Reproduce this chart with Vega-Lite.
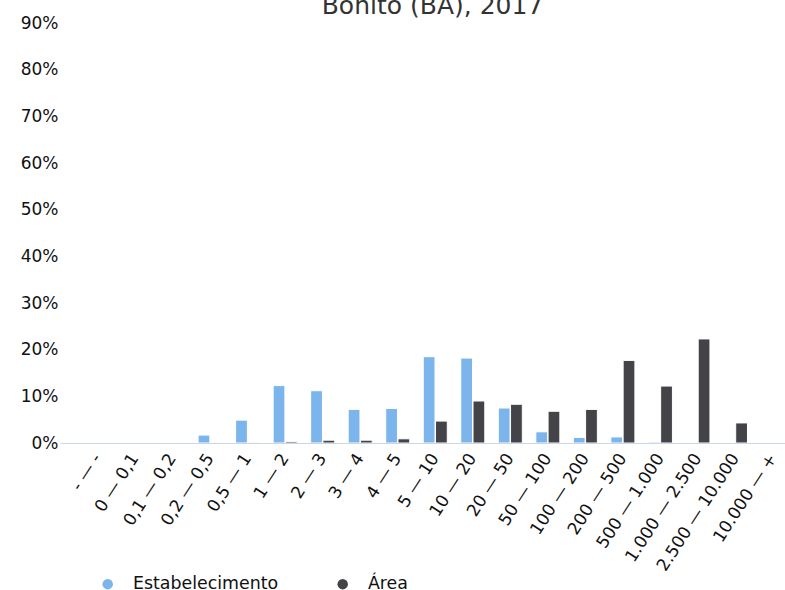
{
  "$schema": "https://vega.github.io/schema/vega-lite/v6.json",
  "autosize": {"type": "none"},
  "padding": {"left": 60, "top": 23, "right": 0, "bottom": 147},
  "width": 725,
  "height": 420,
  "title": {
    "text": "Bonito (BA), 2017",
    "font": "DejaVu Sans",
    "fontSize": 25,
    "fontWeight": "normal",
    "color": "#333333",
    "anchor": "middle",
    "offset": -5,
    "dx": 10
  },
  "data": {
    "values": [
      {"faixa": "- — -", "tipo": "Estabelecimento", "valor": 0},
      {"faixa": "- — -", "tipo": "Área", "valor": 0},
      {"faixa": "0 — 0,1", "tipo": "Estabelecimento", "valor": 0},
      {"faixa": "0 — 0,1", "tipo": "Área", "valor": 0},
      {"faixa": "0,1 — 0,2", "tipo": "Estabelecimento", "valor": 0},
      {"faixa": "0,1 — 0,2", "tipo": "Área", "valor": 0},
      {"faixa": "0,2 — 0,5", "tipo": "Estabelecimento", "valor": 0.017},
      {"faixa": "0,2 — 0,5", "tipo": "Área", "valor": 0.0002},
      {"faixa": "0,5 — 1", "tipo": "Estabelecimento", "valor": 0.049},
      {"faixa": "0,5 — 1", "tipo": "Área", "valor": 0.0005},
      {"faixa": "1 — 2", "tipo": "Estabelecimento", "valor": 0.123},
      {"faixa": "1 — 2", "tipo": "Área", "valor": 0.003},
      {"faixa": "2 — 3", "tipo": "Estabelecimento", "valor": 0.112},
      {"faixa": "2 — 3", "tipo": "Área", "valor": 0.006},
      {"faixa": "3 — 4", "tipo": "Estabelecimento", "valor": 0.072},
      {"faixa": "3 — 4", "tipo": "Área", "valor": 0.006},
      {"faixa": "4 — 5", "tipo": "Estabelecimento", "valor": 0.074},
      {"faixa": "4 — 5", "tipo": "Área", "valor": 0.009},
      {"faixa": "5 — 10", "tipo": "Estabelecimento", "valor": 0.185},
      {"faixa": "5 — 10", "tipo": "Área", "valor": 0.047},
      {"faixa": "10 — 20", "tipo": "Estabelecimento", "valor": 0.182},
      {"faixa": "10 — 20", "tipo": "Área", "valor": 0.09},
      {"faixa": "20 — 50", "tipo": "Estabelecimento", "valor": 0.075},
      {"faixa": "20 — 50", "tipo": "Área", "valor": 0.083},
      {"faixa": "50 — 100", "tipo": "Estabelecimento", "valor": 0.024},
      {"faixa": "50 — 100", "tipo": "Área", "valor": 0.068},
      {"faixa": "100 — 200", "tipo": "Estabelecimento", "valor": 0.012},
      {"faixa": "100 — 200", "tipo": "Área", "valor": 0.072},
      {"faixa": "200 — 500", "tipo": "Estabelecimento", "valor": 0.013},
      {"faixa": "200 — 500", "tipo": "Área", "valor": 0.177},
      {"faixa": "500 — 1.000", "tipo": "Estabelecimento", "valor": 0.002},
      {"faixa": "500 — 1.000", "tipo": "Área", "valor": 0.122},
      {"faixa": "1.000 — 2.500", "tipo": "Estabelecimento", "valor": 0},
      {"faixa": "1.000 — 2.500", "tipo": "Área", "valor": 0.223},
      {"faixa": "2.500 — 10.000", "tipo": "Estabelecimento", "valor": 0},
      {"faixa": "2.500 — 10.000", "tipo": "Área", "valor": 0.043},
      {"faixa": "10.000 — +", "tipo": "Estabelecimento", "valor": 0},
      {"faixa": "10.000 — +", "tipo": "Área", "valor": 0}
    ]
  },
  "mark": {"type": "bar", "stroke": "#ffffff", "strokeWidth": 1},
  "encoding": {
    "x": {
      "field": "faixa",
      "type": "nominal",
      "sort": null,
      "scale": {"paddingInner": 0.36, "paddingOuter": 0.34, "align": 1},
      "axis": {
        "title": null,
        "zindex": 1,
        "labelAngle": -57,
        "labelAlign": "right",
        "labelBaseline": "middle",
        "labelPadding": 12,
        "ticks": false,
        "domainColor": "#ccd6eb",
        "domainWidth": 1,
        "labelFont": "DejaVu Sans",
        "labelFontSize": 17,
        "labelColor": "#111111",
        "labelOverlap": false,
        "labelLimit": 400
      }
    },
    "xOffset": {
      "field": "tipo",
      "type": "nominal",
      "sort": ["Estabelecimento", "Área"],
      "scale": {"paddingInner": 0.04}
    },
    "y": {
      "field": "valor",
      "type": "quantitative",
      "scale": {"domain": [0, 0.9], "nice": false},
      "axis": {
        "title": null,
        "domain": false,
        "ticks": false,
        "grid": false,
        "values": [0, 0.1, 0.2, 0.3, 0.4, 0.5, 0.6, 0.7, 0.8, 0.9],
        "format": ".0%",
        "labelPadding": 2,
        "labelFont": "DejaVu Sans",
        "labelFontSize": 17,
        "labelColor": "#111111"
      }
    },
    "color": {
      "field": "tipo",
      "type": "nominal",
      "sort": ["Estabelecimento", "Área"],
      "scale": {"domain": ["Estabelecimento", "Área"], "range": ["#7cb5ec", "#434348"]},
      "legend": {
        "title": null,
        "orient": "none",
        "legendX": 39,
        "legendY": 552,
        "direction": "horizontal",
        "symbolType": "circle",
        "symbolSize": 110,
        "symbolStrokeWidth": 0,
        "labelFont": "DejaVu Sans",
        "labelFontSize": 17.4,
        "labelColor": "#111111",
        "labelOffset": 16.5,
        "labelLimit": 300,
        "columnPadding": 55,
        "padding": 0
      }
    }
  },
  "config": {"view": {"stroke": null}}
}
